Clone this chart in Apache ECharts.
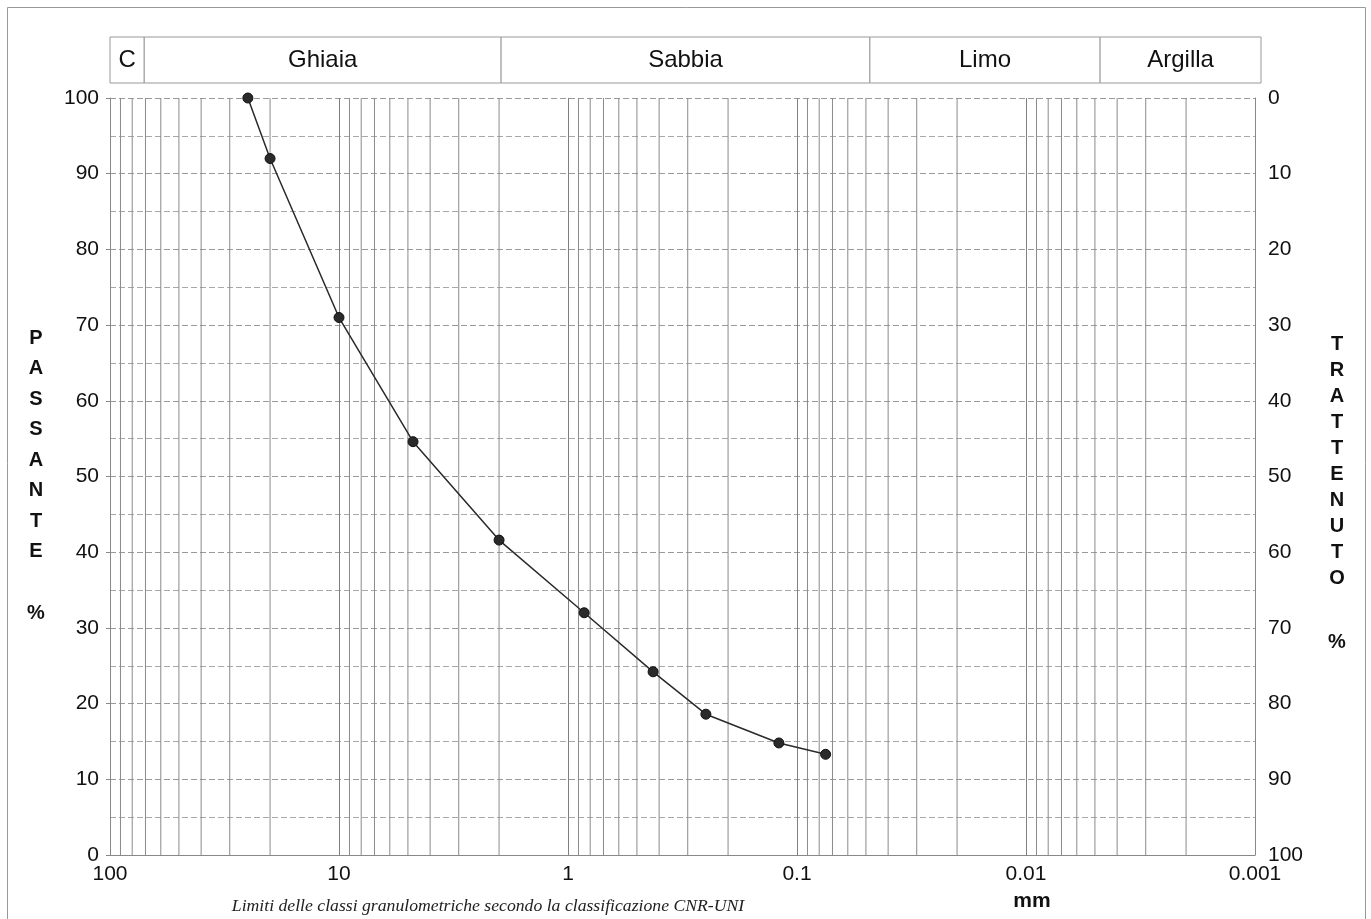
<!DOCTYPE html>
<html><head><meta charset="utf-8">
<script src="https://cdn.jsdelivr.net/npm/echarts@6/dist/echarts.min.js"></script>
<style>html,body{margin:0;padding:0;background:#fff}#c{width:1371px;height:919px}</style>
</head><body><div id="c"></div>
<script>
// ---- data ----
const sieveSizes = [25, 20, 10, 4.75, 2, 0.85, 0.425, 0.25, 0.12, 0.075];   // mm
const passing    = [100, 92, 71, 54.6, 41.6, 32.0, 24.2, 18.6, 14.8, 13.3]; // %
const classNames  = ['C', 'Ghiaia', 'Sabbia', 'Limo', 'Argilla'];
const classLimits = [100, 71, 2, 0.05, 0.005, 0.001];                          // mm
const xTickValues = [100, 10, 1, 0.1, 0.01, 0.001];
const xTickLabels = ['100', '10', '1', '0.1', '0.01', '0.001'];
const leftTitle  = ['P','A','S','S','A','N','T','E'];
const rightTitle = ['T','R','A','T','T','E','N','U','T','O'];
const caption = 'Limiti delle classi granulometriche secondo la classificazione CNR-UNI';

const FONT = '"Liberation Sans", Arial, sans-serif';
const chart = echarts.init(document.getElementById('c'), null, {renderer: 'canvas'});

// minor log grid lines (2..9 of each decade), drawn as thin line series on the log axis
const minorX = [];
for (let e = -3; e <= 1; e++) for (let m = 2; m <= 9; m++) minorX.push(+(m * Math.pow(10, e)).toPrecision(3));
const minorSeries = minorX.map(v => ({
  type: 'line', xAxisIndex: 1, yAxisIndex: 1, silent: true, z: 1,
  symbol: 'none', data: [[v, 0], [v, 100]],
  lineStyle: {color: '#8a8a8a', width: 1}
}));

const headerAreas = classNames.map((n, i) => [{name: n, xAxis: classLimits[i]}, {xAxis: classLimits[i + 1]}]);

const option = {
  animation: false,
  backgroundColor: '#fff',
  grid: [
    {left: 110, right: 110, top: 37, height: 46},
    {left: 110, right: 116, top: 98, height: 757}
  ],
  xAxis: [
    {type: 'log', gridIndex: 0, min: 0.001, max: 100, inverse: true, show: false},
    {type: 'log', gridIndex: 1, min: 0.001, max: 100, inverse: true, logBase: 10,
     axisLine: {show: true, lineStyle: {color: '#888'}},
     axisTick: {show: false},
     axisLabel: {fontSize: 21, color: '#111', fontFamily: FONT, margin: 9,
       formatter: v => {
         const i = xTickValues.findIndex(t => Math.abs(Math.log10(t) - Math.log10(v)) < 1e-6);
         return i >= 0 ? xTickLabels[i] : '';
       }},
     splitLine: {show: true, lineStyle: {color: '#808080', width: 1}}}
  ],
  yAxis: [
    {type: 'value', gridIndex: 0, min: 0, max: 1, show: false},
    {type: 'value', gridIndex: 1, min: 0, max: 100, interval: 10, position: 'left',
     axisLine: {show: true, lineStyle: {color: '#888'}},
     axisTick: {show: true, length: 4, lineStyle: {color: '#888'}},
     axisLabel: {fontSize: 21, color: '#111', fontFamily: FONT, margin: 11},
     splitLine: {show: true, lineStyle: {color: '#9a9a9a', width: 1, type: [6, 3]}},
     minorTick: {show: false, splitNumber: 2},
     minorSplitLine: {show: true, lineStyle: {color: '#a8a8a8', width: 1, type: [6, 3]}}},
    {type: 'value', gridIndex: 1, min: 0, max: 100, interval: 10, inverse: true, position: 'right',
     axisLine: {show: true, lineStyle: {color: '#888'}},
     axisTick: {show: false},
     axisLabel: {fontSize: 21, color: '#111', fontFamily: FONT, margin: 13},
     splitLine: {show: false}}
  ],
  series: [
    {type: 'line', xAxisIndex: 0, yAxisIndex: 0, data: [], silent: true,
     markArea: {silent: true,
       itemStyle: {color: '#fff', borderColor: '#999', borderWidth: 1},
       label: {show: true, position: 'inside', color: '#111', fontSize: 24, fontFamily: FONT},
       data: headerAreas}},
    ...minorSeries,
    {type: 'line', xAxisIndex: 1, yAxisIndex: 1, z: 5,
     data: sieveSizes.map((s, i) => [s, passing[i]]),
     symbol: 'circle', symbolSize: 10,
     lineStyle: {color: '#2a2a2a', width: 1.5},
     itemStyle: {color: '#2a2a2a', borderColor: '#111', borderWidth: 1}}
  ],
  graphic: [
    {type: 'rect', silent: true, shape: {x: 7.5, y: 7.5, width: 1358, height: 930},
     style: {fill: 'none', stroke: '#999', lineWidth: 1}},
    {type: 'text', silent: true, style: {text: leftTitle.join('\n'), x: 36, y: 338 - 15.25,
      textAlign: 'center', font: 'bold 20px ' + FONT, lineHeight: 30.5, fill: '#111'}},
    {type: 'text', silent: true, style: {text: '%', x: 36, y: 613 - 12,
      textAlign: 'center', font: 'bold 20px ' + FONT, lineHeight: 24, fill: '#111'}},
    {type: 'text', silent: true, style: {text: rightTitle.join('\n'), x: 1337, y: 344 - 13,
      textAlign: 'center', font: 'bold 20px ' + FONT, lineHeight: 26, fill: '#111'}},
    {type: 'text', silent: true, style: {text: '%', x: 1337, y: 642 - 12,
      textAlign: 'center', font: 'bold 20px ' + FONT, lineHeight: 24, fill: '#111'}},
    {type: 'text', silent: true, style: {text: caption, x: 488, y: 906, textAlign: 'center',
      textVerticalAlign: 'middle', font: 'italic 17.7px "Liberation Serif", "Times New Roman", serif', fill: '#222'}},
    {type: 'text', silent: true, style: {text: 'mm', x: 1032, y: 901, textAlign: 'center',
      textVerticalAlign: 'middle', font: 'bold 21px ' + FONT, fill: '#111'}}
  ]
};
chart.setOption(option);
</script></body></html>
